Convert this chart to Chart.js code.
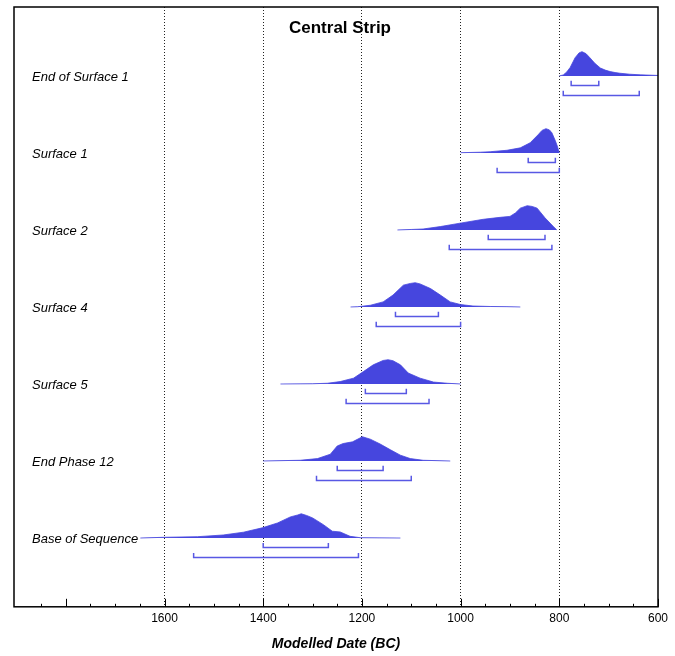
<!DOCTYPE html>
<html>
<head>
<meta charset="utf-8">
<script src="https://cdn.jsdelivr.net/npm/chart.js@4.4.1/dist/chart.umd.min.js"></script>
<style>
  html, body { margin: 0; padding: 0; background: #fff; }
  #wrap { width: 675px; height: 656px; }
</style>
</head>
<body>
<div id="wrap"><canvas id="c" width="675" height="656"></canvas></div>
<script>
// ---- Data ----
const chartTitle = 'Central Strip';
const axisTitle = 'Modelled Date (BC)';
const categories = ['End of Surface 1', 'Surface 1', 'Surface 2', 'Surface 4', 'Surface 5', 'End Phase 12', 'Base of Sequence'];
const majorTicks = [1600, 1400, 1200, 1000, 800, 600];

// Probability distributions: years (BC) and relative density (peak = 1)
const yearsEndSurface1 = [800, 792, 785, 778, 768, 760, 754, 746, 738, 728, 717, 707, 697, 687, 677, 657, 636, 600, 580];
const densEndSurface1  = [0, 0.04, 0.16, 0.35, 0.75, 0.95, 1.0, 0.92, 0.75, 0.52, 0.33, 0.24, 0.18, 0.14, 0.11, 0.07, 0.045, 0.02, 0.01];

const yearsSurface1 = [1000, 960, 940, 906, 879, 859, 843, 835, 827, 820, 815, 808, 804, 800];
const densSurface1  = [0.01, 0.03, 0.05, 0.11, 0.21, 0.42, 0.75, 0.93, 1.0, 0.95, 0.83, 0.5, 0.28, 0];

const yearsSurface2 = [1128, 1100, 1076, 1041, 1001, 954, 920, 900, 889, 879, 865, 855, 845, 829, 812, 805];
const densSurface2  = [0, 0.02, 0.04, 0.14, 0.28, 0.44, 0.52, 0.56, 0.7, 0.9, 1.0, 0.97, 0.9, 0.5, 0.14, 0];

const yearsSurface4 = [1223, 1209, 1183, 1157, 1137, 1116, 1102, 1092, 1082, 1061, 1041, 1021, 1000, 975, 940, 906, 879];
const densSurface4  = [0, 0.01, 0.07, 0.21, 0.49, 0.9, 0.97, 1.0, 0.95, 0.76, 0.49, 0.21, 0.1, 0.04, 0.02, 0.012, 0];

const yearsSurface5 = [1365, 1300, 1270, 1244, 1217, 1197, 1177, 1157, 1147, 1137, 1122, 1106, 1082, 1055, 1027, 1000];
const densSurface5  = [0, 0.01, 0.03, 0.1, 0.24, 0.51, 0.79, 0.97, 1.0, 0.96, 0.79, 0.45, 0.24, 0.08, 0.03, 0];

const yearsEndPhase12 = [1400, 1325, 1290, 1264, 1250, 1238, 1219, 1199, 1183, 1163, 1142, 1122, 1102, 1076, 1021];
const densEndPhase12  = [0, 0.03, 0.1, 0.28, 0.62, 0.72, 0.79, 1.0, 0.9, 0.7, 0.46, 0.24, 0.1, 0.03, 0];

const yearsBase = [1649, 1602, 1533, 1481, 1440, 1402, 1371, 1345, 1330, 1323, 1312, 1300, 1278, 1260, 1244, 1224, 1203, 1122];
const densBase  = [0, 0.03, 0.055, 0.125, 0.24, 0.42, 0.62, 0.87, 0.95, 1.0, 0.93, 0.83, 0.55, 0.28, 0.25, 0.07, 0.012, 0];

// Highest posterior density ranges [start, end] (BC)
const range68 = [[776, 720], [863, 808], [944, 829], [1132, 1045], [1193, 1110], [1250, 1157], [1400, 1268]];
const range95 = [[792, 638], [926, 800], [1023, 815], [1171, 1000], [1232, 1064], [1292, 1100], [1541, 1207]];

const distYears = [yearsEndSurface1, yearsSurface1, yearsSurface2, yearsSurface4, yearsSurface5, yearsEndPhase12, yearsBase];
const distDens  = [densEndSurface1, densSurface1, densSurface2, densSurface4, densSurface5, densEndPhase12, densBase];

// ---- Styling ----
const FILL = 'rgb(70,70,222)';
const BRACKET = 'rgb(88,88,228)';
const PEAK = 0.315;       // peak height in row units
const OFF68 = 0.123, OFF95 = 0.253, TICK = 0.06;
const FONT = "'Liberation Sans', Arial, sans-serif";

const datasets = [];
categories.forEach((name, i) => {
  datasets.push({
    label: name,
    data: distYears[i].map((yr, j) => ({ x: yr, y: i - distDens[i][j] * PEAK })),
    fill: { value: i },
    backgroundColor: FILL,
    borderColor: FILL,
    borderWidth: 0.8,
    pointRadius: 0,
    tension: 0
  });
  [[range68[i], OFF68], [range95[i], OFF95]].forEach(([r, off]) => {
    datasets.push({
      label: name + ' range',
      data: [
        { x: r[0], y: i + off - TICK },
        { x: r[0], y: i + off },
        { x: r[1], y: i + off },
        { x: r[1], y: i + off - TICK }
      ],
      fill: false,
      borderColor: BRACKET,
      borderWidth: 1.5,
      pointRadius: 0,
      tension: 0
    });
  });
});

const overlay = {
  id: 'overlay',
  afterDraw(chart) {
    const { ctx, chartArea: a, scales } = chart;
    const xs = scales.x, ys = scales.y;
    ctx.save();
    // inward ticks on bottom axis
    ctx.strokeStyle = '#000';
    ctx.lineWidth = 1;
    xs.ticks.forEach(t => {
      const v = t.value;
      if (v % 50 !== 0) return;
      const len = (v % 200 === 0) ? 8 : 3;
      const px = Math.round(xs.getPixelForValue(v)) + 0.5;
      ctx.beginPath();
      ctx.moveTo(px, a.bottom);
      ctx.lineTo(px, a.bottom - len);
      ctx.stroke();
    });
    // frame
    ctx.lineWidth = 1.5;
    ctx.strokeRect(a.left, a.top, a.right - a.left, a.bottom - a.top);
    // row labels
    ctx.fillStyle = '#000';
    ctx.font = 'italic 13px ' + FONT;
    ctx.textAlign = 'left';
    ctx.textBaseline = 'middle';
    categories.forEach((name, i) => {
      ctx.fillText(name, a.left + 18, ys.getPixelForValue(i) + 1);
    });
    // title
    ctx.font = 'bold 17px ' + FONT;
    ctx.textAlign = 'center';
    ctx.fillText(chartTitle, (a.left + a.right) / 2 + 4, a.top + 21);
    ctx.restore();
  }
};

new Chart(document.getElementById('c'), {
  type: 'line',
  data: { datasets },
  options: {
    responsive: false,
    animation: false,
    layout: { padding: { left: 14, right: 17, top: 7, bottom: 1 } },
    plugins: { legend: { display: false }, tooltip: { enabled: false }, title: { display: false } },
    scales: {
      x: {
        type: 'linear',
        reverse: true,
        min: 600,
        max: 1905,
        grid: {
          drawTicks: false,
          lineWidth: 1,
          color: ctx => {
            const v = ctx.tick && ctx.tick.value;
            return (v % 200 === 0 && v > 600 && v <= 1600) ? '#222' : 'rgba(0,0,0,0)';
          }
        },
        border: { display: false, dash: [1, 2] },
        ticks: {
          stepSize: 50,
          padding: 5,
          color: '#000',
          font: { family: FONT, size: 12 },
          maxRotation: 0,
          autoSkip: false,
          callback: v => majorTicks.includes(v) ? String(v) : ''
        },
        title: {
          display: true,
          text: axisTitle,
          color: '#000',
          font: { family: FONT, size: 14, weight: 'bold', style: 'italic' },
          padding: { top: 5, bottom: 2 }
        }
      },
      y: {
        type: 'linear',
        display: false,
        reverse: true,
        min: -0.895,
        max: 6.893
      }
    }
  },
  plugins: [overlay]
});
</script>
</body>
</html>
